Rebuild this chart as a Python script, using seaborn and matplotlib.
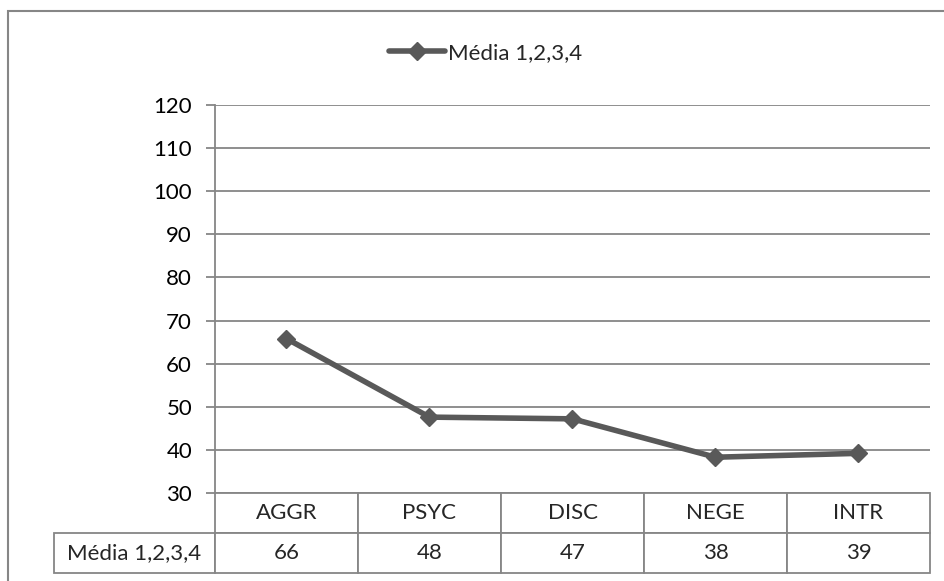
import numpy as np
import pandas as pd
import matplotlib
matplotlib.use('Agg')
import matplotlib.pyplot as plt
import seaborn as sns
from matplotlib.patches import Rectangle

categories = ['AGGR', 'PSYC', 'DISC', 'NEGE', 'INTR']
values = [65.8, 47.6, 47.2, 38.3, 39.2]
series_name = 'Média 1,2,3,4'
y_ticks = [30, 40, 50, 60, 70, 80, 90, 100, 110, 120]

sns.set_style('white')
plt.rcParams['font.family'] = ['Lato', 'DejaVu Sans']

gray = '#868686'
line_col = '#595959'
fs = 16

df = pd.DataFrame({'cat': categories, 'val': values, 'serie': series_name})
df['pos'] = np.arange(len(categories))

W, H = 945, 581
fig = plt.figure(figsize=(W / 100, H / 100), dpi=100)
# plot area: x 215..930, y 105..493 (pixels)
ax = fig.add_axes([215 / W, 1 - 493 / H, 715 / W, 388 / H])

sns.lineplot(data=df, x='pos', y='val', hue='serie', palette=[line_col], ax=ax,
             marker='D', markersize=9.5, linewidth=4, markeredgecolor=line_col,
             markeredgewidth=1, legend=True)

ax.set_xlim(-0.5, len(categories) - 0.5)
ax.set_ylim(30, 120)
ax.set_yticks(y_ticks)
ax.set_xticks([])
ax.set_xlabel('')
ax.set_ylabel('')
ax.yaxis.grid(True, color=gray, linewidth=1.3)
ax.set_axisbelow(True)
for s in ['top', 'right', 'bottom']:
    ax.spines[s].set_visible(False)
ax.spines['left'].set_color(gray)
ax.spines['left'].set_linewidth(1.3)
ax.tick_params(axis='y', length=6.5, width=1.3, color=gray, labelsize=fs, pad=10,
               left=True, labelcolor='black')

# data table below the plot
label_w = 161 / 715
row_h = 40 / 388
cell_text = [[''] + categories, [series_name] + [f"{v:.0f}" for v in values]]
col_w = [161] + [143] * len(categories)
tab = ax.table(cellText=cell_text, colWidths=col_w, cellLoc='center',
               bbox=[-label_w, -2 * row_h, 1 + label_w, 2 * row_h])
tab.auto_set_font_size(False)
for (r, c), cell in tab.get_celld().items():
    cell.set_edgecolor(gray)
    cell.set_linewidth(1.3)
    cell.get_text().set_fontsize(fs)
    if r == 0 and c == 0:
        cell.visible_edges = ''

leg = ax.legend(handles=ax.get_legend().legend_handles, labels=[series_name],
                loc='center', bbox_to_anchor=(486 / W, 1 - 53 / H),
                bbox_transform=fig.transFigure, frameon=False, fontsize=fs,
                handlelength=2.5, handletextpad=0.15)
for h in leg.legend_handles:
    h.set_markersize(9)

# chart border (right and bottom edges fall outside the image)
fig.patches.append(Rectangle((8 / W, -0.05), 1.05, 1 - 11 / H + 0.05,
                             transform=fig.transFigure, fill=False,
                             edgecolor=gray, linewidth=1.5))

fig.savefig('out.png', dpi=100)
